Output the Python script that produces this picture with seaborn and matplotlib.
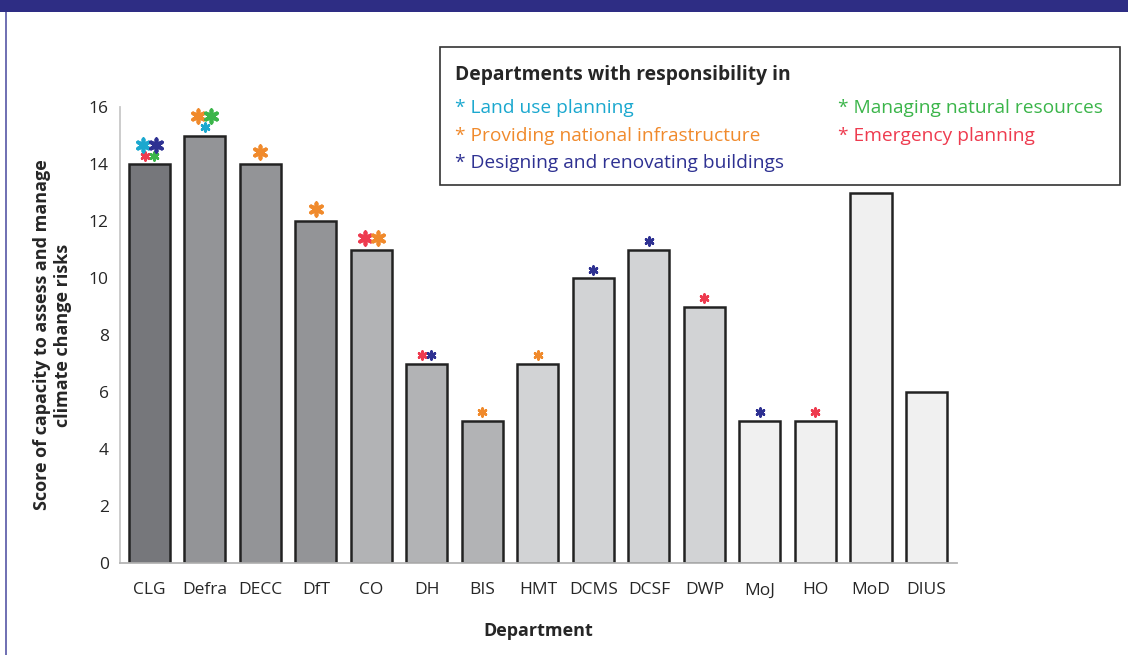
import matplotlib
matplotlib.use("Agg")
import matplotlib.pyplot as plt
from matplotlib.patches import Rectangle
import seaborn as sns

# data
departments = ["CLG", "Defra", "DECC", "DfT", "CO", "DH", "BIS", "HMT",
               "DCMS", "DCSF", "DWP", "MoJ", "HO", "MoD", "DIUS"]
scores = [14, 15, 14, 12, 11, 7, 5, 7, 10, 11, 9, 5, 5, 13, 6]
bar_colors = ["#76777b", "#939497", "#939497", "#939497", "#b2b3b5", "#b2b3b5",
              "#b2b3b5", "#d2d3d5", "#d2d3d5", "#d2d3d5", "#d2d3d5", "#f0f0f0",
              "#f0f0f0", "#f0f0f0", "#f0f0f0"]

# responsibilities: L land use, I infrastructure, B buildings, N natural resources, E emergency
big_marks = ["LB", "IN", "I", "I", "EI", "", "", "", "", "", "", "", "", "", ""]
small_marks = ["EN", "L", "", "", "", "EB", "I", "I", "B", "B", "E", "B", "E", "", ""]

resp_codes = ["L", "I", "B", "N", "E"]
resp_labels = ["Land use planning", "Providing national infrastructure",
               "Designing and renovating buildings", "Managing natural resources",
               "Emergency planning"]
resp_colors = ["#1ba8cf", "#f08a2c", "#2e3192", "#3bb54a", "#ee3b4f"]
code_color = dict(zip(resp_codes, resp_colors))

sns.set_style("white")
plt.rcParams["font.family"] = ["Open Sans", "DejaVu Sans"]

fig = plt.figure(figsize=(11.28, 6.55), dpi=100)
ax = fig.add_axes([120 / 1128, 1 - 563 / 655, 837 / 1128, 456 / 655])

sns.barplot(x=departments, y=scores, hue=departments, palette=bar_colors,
            legend=False, width=0.74, edgecolor="#222222", linewidth=1.8,
            saturation=1, ax=ax)

ax.set_xlim(-0.53, 14.55)
ax.set_ylim(0, 16)
ax.set_yticks(range(0, 17, 2))
ax.tick_params(length=0, labelsize=12.5, pad=8)
ax.tick_params(axis="x", pad=14)
for s in ["top", "right"]:
    ax.spines[s].set_visible(False)
ax.spines["left"].set_color("#c8c8c8")
ax.spines["bottom"].set_color("#b4b4b4")
ax.spines["left"].set_linewidth(1.3)
ax.spines["bottom"].set_linewidth(1.3)

ax.set_xlabel("Department", fontsize=13, fontweight="bold", labelpad=17)
ax.set_ylabel("Score of capacity to assess and manage\nclimate change risks",
              fontsize=13, fontweight="bold", labelpad=12, linespacing=1.25)

# asterisks above bars
def draw_row(i, codes, y, size, lw, step):
    n = len(codes)
    for k, c in enumerate(codes):
        dx = (k - (n - 1) / 2) * step
        ax.scatter(i + dx, y, marker=(6, 2, 0), s=size, linewidths=lw,
                   color=code_color[c], clip_on=False, zorder=5)

for i, v in enumerate(scores):
    if small_marks[i]:
        draw_row(i, small_marks[i], v + 0.29, 32, 1.9, 0.16)
    if big_marks[i]:
        off = 0.68 if small_marks[i] else 0.42
        draw_row(i, big_marks[i], v + off, 80, 2.7, 0.235)

# legend box
fig.patches.append(Rectangle((440 / 1128, 1 - 185 / 655), 680 / 1128, 138 / 655,
                             transform=fig.transFigure, facecolor="white",
                             edgecolor="#333333", linewidth=1.2, zorder=10))
fig.text(455 / 1128, 1 - 75 / 655, "Departments with responsibility in",
         fontsize=13.9, fontweight="bold", va="center", zorder=11)
legend_pos = [(455, 108), (455, 136), (455, 163), (838, 108), (838, 136)]
for (px, py), lab, col in zip(legend_pos, resp_labels, resp_colors):
    fig.text(px / 1128, 1 - py / 655, "* " + lab, fontsize=13.8, color=col,
             va="center", zorder=11)

# frame decoration
fig.patches.append(Rectangle((0, 1 - 12 / 655), 1, 12 / 655, transform=fig.transFigure,
                             facecolor="#2e2d84", edgecolor="none"))
fig.patches.append(Rectangle((5 / 1128, 0), 2 / 1128, 1 - 12 / 655, transform=fig.transFigure,
                             facecolor="#7272b4", edgecolor="none"))

fig.savefig("out.png", dpi=100)
